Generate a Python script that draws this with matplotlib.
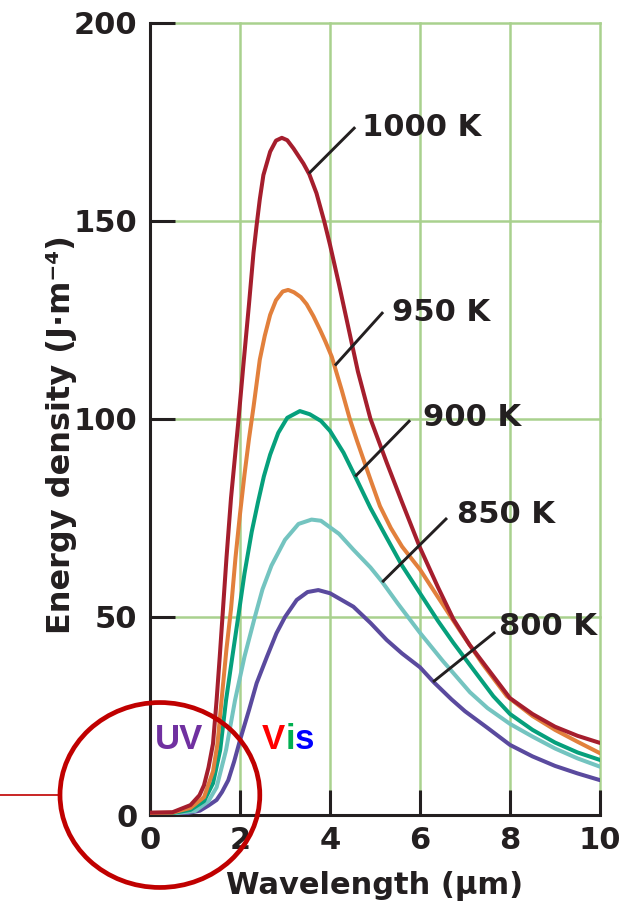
import matplotlib
matplotlib.use("Agg")
import matplotlib.pyplot as plt
from matplotlib.patches import Ellipse
from matplotlib.lines import Line2D

# blackbody curves read per temperature: wavelength (um) vs energy density
wl_1000 = [0, 0.5, 0.9, 1.1, 1.2, 1.3, 1.4, 1.48, 1.55, 1.61, 1.7, 1.8, 1.96, 2.07,
           2.2, 2.3, 2.37, 2.44, 2.52, 2.67, 2.8, 2.93, 3.05, 3.19, 3.41, 3.54,
           3.7, 3.87, 4.0, 4.2, 4.62, 4.9, 5.26, 5.6, 6.0, 6.4, 6.74, 7.1, 7.5,
           8.0, 8.5, 9.0, 9.5, 10.0]
ed_1000 = [0.6, 0.7, 2.5, 5, 7.5, 12, 18, 29, 40, 50, 65, 80, 99, 113,
           129, 142, 149, 155.5, 161.6, 167.5, 170.3, 171, 170.4, 168.3, 164.5, 161.8,
           157, 150, 144, 134, 112, 100, 89, 79, 67.5, 57.5, 49.5, 43, 37,
           29.5, 25.5, 22.3, 20, 18.2]

wl_950 = [0, 0.5, 0.9, 1.2, 1.4, 1.5, 1.59, 1.7, 1.8, 1.9, 2.0, 2.1, 2.2, 2.3,
          2.44, 2.55, 2.67, 2.8, 2.95, 3.07, 3.2, 3.35, 3.48, 3.63, 3.78, 3.9,
          4.04, 4.15, 4.26, 4.44, 4.6, 4.89, 5.11, 5.35, 5.6, 6.0, 6.4, 6.89, 7.4,
          7.93, 8.5, 9.0, 9.5, 10.0]
ed_950 = [0.5, 0.6, 1.8, 4.5, 11, 18, 29, 42, 52, 65, 76, 86, 95, 103,
          115, 121, 126.3, 130, 132.2, 132.6, 132, 130.8, 129, 126, 122.5, 119.5,
          115.7, 111.5, 107.3, 100, 94.5, 85, 78, 72.5, 67.8, 62, 55, 46.5, 38,
          30, 25, 21.5, 18.5, 15.6]

wl_900 = [0, 0.5, 0.9, 1.2, 1.4, 1.56, 1.69, 1.83, 1.96, 2.1, 2.26, 2.4, 2.53,
          2.67, 2.85, 3.05, 3.33, 3.55, 3.8, 4.0, 4.3, 4.56, 4.9, 5.26, 5.6, 6.0,
          6.4, 6.74, 7.2, 7.63, 8.0, 8.5, 9.0, 9.5, 10.0]
ed_900 = [0.4, 0.5, 1.3, 3.5, 8, 16.4, 29, 40, 50, 61, 71.5, 79, 85.5,
          91, 96.5, 100.3, 102, 101.2, 99.5, 97, 91.5, 85.5, 77.5, 70, 63, 56,
          49, 43.5, 36.5, 30, 25.5, 21.5, 18.3, 15.8, 13.9]

wl_850 = [0, 0.5, 1.0, 1.3, 1.48, 1.69, 1.89, 2.1, 2.33, 2.5, 2.7, 3.0, 3.3,
          3.59, 3.8, 4.2, 4.52, 4.9, 5.15, 5.5, 6.0, 6.5, 7.11, 7.5, 8.0, 8.5,
          9.0, 9.5, 10.0]
ed_850 = [0.3, 0.4, 1.0, 3.5, 7, 16.4, 29, 40, 50, 57, 63, 69.5, 73.5,
          74.6, 74.3, 71, 67, 62.5, 59, 53.5, 46, 39, 31, 27, 23, 19.8,
          16.8, 14.3, 12.2]

wl_800 = [0, 0.5, 0.8, 1.11, 1.3, 1.48, 1.6, 1.74, 1.87, 2.0, 2.2, 2.37, 2.6,
          2.81, 3.0, 3.26, 3.5, 3.74, 4.0, 4.52, 4.9, 5.26, 5.6, 6.0, 6.3, 6.7,
          7.0, 7.5, 8.0, 8.5, 9.0, 9.5, 10.0]
ed_800 = [0.2, 0.2, 0.4, 1.1, 2.4, 3.8, 5.8, 8.8, 13.5, 18.9, 26.5, 33.3, 40,
          45.9, 50, 54.3, 56.3, 56.8, 56, 52.6, 48.5, 44.2, 40.8, 37.3, 33.6, 29.2,
          26.2, 22, 17.7, 14.8, 12.4, 10.5, 8.8]

temp_labels = ["800 K", "850 K", "900 K", "950 K", "1000 K"]
x_ticks = [0, 2, 4, 6, 8, 10]
y_ticks = [0, 50, 100, 150, 200]

dark = "#231f20"
plt.rcParams["font.family"] = ["DejaVu Sans"]
plt.rcParams["font.weight"] = "bold"
plt.rcParams["axes.labelweight"] = "bold"

fig = plt.figure(figsize=(6.35, 9.13), dpi=100)
ax = fig.add_axes([150 / 635, 1 - 815 / 913, 450 / 635, 792 / 913])

curves = [
    (wl_800, ed_800, "#5a4a9e"),
    (wl_850, ed_850, "#74c4c0"),
    (wl_900, ed_900, "#06a07c"),
    (wl_950, ed_950, "#e2803c"),
    (wl_1000, ed_1000, "#a51e2d"),
]
for wl, ed, c in curves:
    ax.plot(wl, ed, color=c, lw=2.9, solid_joinstyle="round",
            solid_capstyle="round", zorder=3)

ax.set_xlim(0, 10)
ax.set_ylim(0, 200)
ax.set_xticks(x_ticks)
ax.set_yticks(y_ticks)
ax.grid(True, color="#a9d18e", lw=1.8)
ax.set_axisbelow(True)
for gl in ax.get_xgridlines() + ax.get_ygridlines():
    gl.set_clip_on(False)

for s in ["top", "right"]:
    ax.spines[s].set_visible(False)
for s in ["left", "bottom"]:
    ax.spines[s].set_linewidth(2.2)
    ax.spines[s].set_color(dark)

ax.tick_params(direction="in", length=18, width=2.2, color=dark,
               labelsize=22, labelcolor=dark)
ax.tick_params(axis="x", pad=8)
ax.tick_params(axis="y", pad=9)

ax.set_xlabel("Wavelength (μm)", fontsize=22, color=dark, fontweight="bold")
ax.xaxis.set_label_coords(0.5, (815 - 871) / 792)
ax.set_ylabel("Energy density (J·m⁻⁴)", fontsize=23, color=dark, fontweight="bold")
ax.yaxis.set_label_coords((77 - 150) / 450, (815 - 435) / 792)

# leader lines from each curve to its temperature label
leaders = [
    ((6.29, 33.6), (7.67, 46.2), (7.76, 47.5)),
    ((5.16, 58.8), (6.60, 75.0), (6.82, 76.0)),
    ((4.56, 85.5), (5.78, 99.7), (6.07, 100.3)),
    ((4.11, 113.5), (5.18, 127.0), (5.38, 127.0)),
    ((3.53, 162.0), (4.56, 173.7), (4.71, 173.7)),
]
for lab, (p0, p1, pt) in zip(temp_labels, leaders):
    ax.plot([p0[0], p1[0]], [p0[1], p1[1]], color=dark, lw=2.1,
            solid_capstyle="butt", zorder=4)
    ax.text(pt[0], pt[1], lab, fontsize=22, color=dark, ha="left",
            va="center", zorder=5)

# UV / Vis markers
ax.text(0.11, 19, "UV", fontsize=25, color="#7030a0", family="Liberation Sans",
        weight="bold", va="center", ha="left", zorder=6)
v = ax.text(2.49, 19, "V", fontsize=25, color="#ff0000", family="Liberation Sans",
            weight="bold", va="center", ha="left", zorder=6)
i = ax.annotate("i", xy=(1, 0), xycoords=v, fontsize=25, color="#00b050",
                family="Liberation Sans", weight="bold", va="bottom", ha="left")
ax.annotate("s", xy=(1, 0), xycoords=i, fontsize=25, color="#0000ff",
            family="Liberation Sans", weight="bold", va="bottom", ha="left")

ring = Ellipse((0.22, 5.05), 4.44, 46.7, fill=False, ec="#c00000", lw=3.4,
               clip_on=False, zorder=10)
ax.add_patch(ring)
fig.add_artist(Line2D([0, 60 / 635], [1 - 795 / 913] * 2, color="#c00000", lw=1.2))

fig.savefig("out.png", dpi=100)
